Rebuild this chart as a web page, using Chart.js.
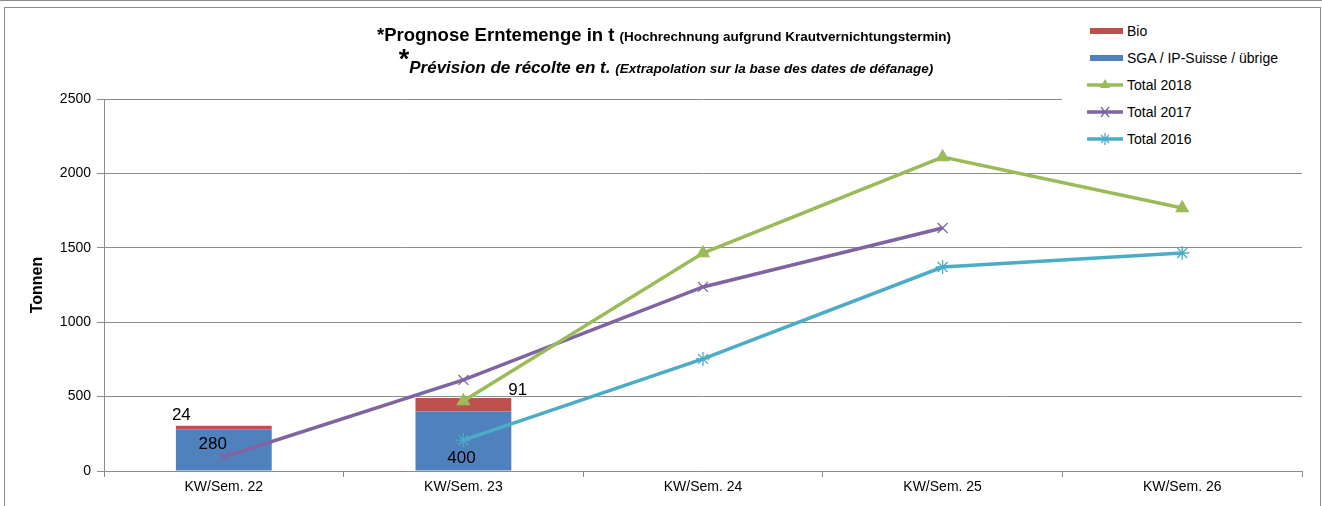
<!DOCTYPE html>
<html lang="de">
<head>
<meta charset="UTF-8" />
<script src="https://cdn.jsdelivr.net/npm/chart.js@4.4.1/dist/chart.umd.min.js"></script>
<title>Prognose Erntemenge</title>
<style>
  body { margin: 0; background: #fff; font-family: "Liberation Sans", Arial, sans-serif; }
  #wrap { position: relative; width: 1322px; height: 506px; overflow: hidden; }
  #frame { position: absolute; left: 4px; top: 7px; width: 1315px; height: 520px; border: 1px solid #8c8c8c; pointer-events: none; }
  #topline { position: absolute; left: 0; top: 0; width: 1322px; height: 0; border-top: 1px solid #8c8c8c; }
  canvas { position: absolute; left: 0; top: 0; }
  .title { position: absolute; left: 0; width: 1322px; text-align: center; font-weight: bold; color: #000; white-space: nowrap; }
  #t1 { top: 24px; font-size: 18.5px; left: 3px; }
  #t1 small { font-size: 13.5px; }
  #t2 { top: 44px; font-size: 17px; font-style: italic; left: 5px; }
  #t2 .star { font-size: 27px; font-style: normal; vertical-align: 5px; }
  #t2 small { font-size: 13.5px; }
  #legend { position: absolute; left: 1062px; top: 18px; width: 242px; height: 136px; background: #fff; }
  .item { position: absolute; left: 0; height: 20px; font-size: 14px; line-height: 20px; }
  .item svg { position: absolute; left: 25px; top: 0; }
  .item span { position: absolute; left: 65px; top: 0; white-space: nowrap; }
</style>
</head>
<body>
<div id="wrap">
  <canvas id="chart" width="1322" height="506"></canvas>
  <div class="title" id="t1">*Prognose Erntemenge in t <small>(Hochrechnung aufgrund Krautvernichtungstermin)</small></div>
  <div class="title" id="t2"><span class="star">*</span>Prévision de récolte en t. <small>(Extrapolation sur la base des dates de défanage)</small></div>
  <div id="legend"></div>
  <div id="frame"></div>
  <div id="topline"></div>
</div>
<script>
  const categories = ['KW/Sem. 22', 'KW/Sem. 23', 'KW/Sem. 24', 'KW/Sem. 25', 'KW/Sem. 26'];
  const sgaValues = [280, 400, null, null, null];
  const bioValues = [24, 91, null, null, null];
  const total2018 = [null, 470, 1465, 2110, 1767];
  const total2017 = [94, 612, 1237, 1633, null];
  const total2016 = [null, 208, 753, 1371, 1465];
  const yTicks = [0, 500, 1000, 1500, 2000, 2500];

  const RED = '#C0504D', BLUE = '#4F81BD', GREEN = '#9BBB59', PURPLE = '#8064A2', CYAN = '#4BACC6';

  // data labels, placed roughly like the original (moved by hand in Excel)
  const labelPlugin = {
    id: 'barLabels',
    afterDatasetsDraw(chart) {
      const ctx = chart.ctx;
      ctx.save();
      ctx.font = '17px "Liberation Sans", Arial, sans-serif';
      ctx.fillStyle = '#000';
      ctx.textBaseline = 'middle';
      chart.data.datasets.forEach((ds, di) => {
        if (ds.type !== 'bar') return;
        const meta = chart.getDatasetMeta(di);
        meta.data.forEach((bar, i) => {
          const v = ds.data[i];
          if (v == null) return;
          const left = bar.x - bar.width / 2, right = bar.x + bar.width / 2;
          let x, y;
          if (ds.label === 'Bio') {
            ctx.textAlign = 'left';
            if (i === 0) { x = left - 4; y = bar.y - 10; }
            else { x = right - 3; y = bar.y - 8; }
          } else {
            ctx.textAlign = 'center';
            if (i === 0) { x = bar.x - 11; y = bar.y + 15; }
            else { x = bar.x - 2; y = bar.base - 12; }
          }
          ctx.fillText(String(v), x, y);
        });
      });
      ctx.restore();
    }
  };

  const lineDs = (label, data, color, style, radius, stack) => ({
    type: 'line', label, data, stack,
    borderColor: color, backgroundColor: color, borderWidth: 3.5,
    pointStyle: style, pointRadius: radius, pointBorderWidth: 1.3,
    pointBorderColor: color, pointBackgroundColor: color,
    tension: 0, spanGaps: false, order: 0
  });

  new Chart(document.getElementById('chart'), {
    data: {
      labels: categories,
      datasets: [
        { type: 'bar', label: 'SGA / IP-Suisse / übrige', data: sgaValues, backgroundColor: BLUE, stack: 'bars', order: 2,
          barPercentage: 0.5, categoryPercentage: 0.8 },
        { type: 'bar', label: 'Bio', data: bioValues, backgroundColor: RED, stack: 'bars', order: 2,
          barPercentage: 0.5, categoryPercentage: 0.8 },
        lineDs('Total 2018', total2018, GREEN, 'triangle', 7, 'l18'),
        lineDs('Total 2017', total2017, PURPLE, 'crossRot', 7, 'l17'),
        lineDs('Total 2016', total2016, CYAN, 'star', 7, 'l16')
      ]
    },
    options: {
      responsive: false,
      animation: false,
      layout: { padding: { left: 25, top: 99, right: 20, bottom: 0 } },
      plugins: { legend: { display: false }, tooltip: { enabled: false }, title: { display: false } },
      scales: {
        x: {
          offset: true,
          grid: { display: true, drawOnChartArea: false, offset: true, color: '#8c8c8c', tickLength: 6 },
          border: { color: '#8c8c8c' },
          ticks: { color: '#000', font: { family: '"Liberation Sans", Arial', size: 14 }, padding: 2, maxRotation: 0 },
          afterFit(s) { s.height = 35; }
        },
        y: {
          stacked: true,
          min: 0, max: 2500,
          afterBuildTicks(s) { s.ticks = yTicks.map(v => ({ value: v })); },
          grid: { color: '#8c8c8c', tickLength: 7 },
          border: { color: '#8c8c8c' },
          ticks: { color: '#000', font: { family: '"Liberation Sans", Arial', size: 14 }, padding: 6,
                   callback: v => String(v) },
          title: { display: true, text: 'Tonnen', color: '#000', font: { family: '"Liberation Sans", Arial', size: 16, weight: 'bold' }, padding: { top: 3, bottom: 4 } },
          afterFit(s) { s.width = 79; }
        }
      }
    },
    plugins: [labelPlugin]
  });

  // legend (HTML, white box over the plot like the original)
  const legendItems = [
    { label: 'Bio', color: RED, kind: 'bar' },
    { label: 'SGA / IP-Suisse / übrige', color: BLUE, kind: 'bar' },
    { label: 'Total 2018', color: GREEN, kind: 'tri' },
    { label: 'Total 2017', color: PURPLE, kind: 'x' },
    { label: 'Total 2016', color: CYAN, kind: 'star' }
  ];
  const legend = document.getElementById('legend');
  legendItems.forEach((it, i) => {
    const d = document.createElement('div');
    d.className = 'item';
    d.style.top = (3 + i * 27) + 'px';
    let svg;
    if (it.kind === 'bar') {
      svg = `<svg width="36" height="20"><rect x="3" y="7" width="33" height="6" fill="${it.color}"/></svg>`;
    } else {
      let m = '';
      if (it.kind === 'tri') m = `<polygon points="18,4 23,13 13,13" fill="${it.color}"/>`;
      if (it.kind === 'x') m = `<path d="M14,5 L22,15 M22,5 L14,15" stroke="${it.color}" stroke-width="1.3"/>`;
      if (it.kind === 'star') m = `<path d="M14,6 L22,14 M22,6 L14,14 M18,4 L18,16" stroke="${it.color}" stroke-width="1.3"/>`;
      svg = `<svg width="36" height="20"><line x1="1" y1="10" x2="36" y2="10" stroke="${it.color}" stroke-width="3.5" stroke-linecap="round"/>${m}</svg>`;
    }
    d.innerHTML = svg + `<span>${it.label}</span>`;
    legend.appendChild(d);
  });
</script>
</body>
</html>
